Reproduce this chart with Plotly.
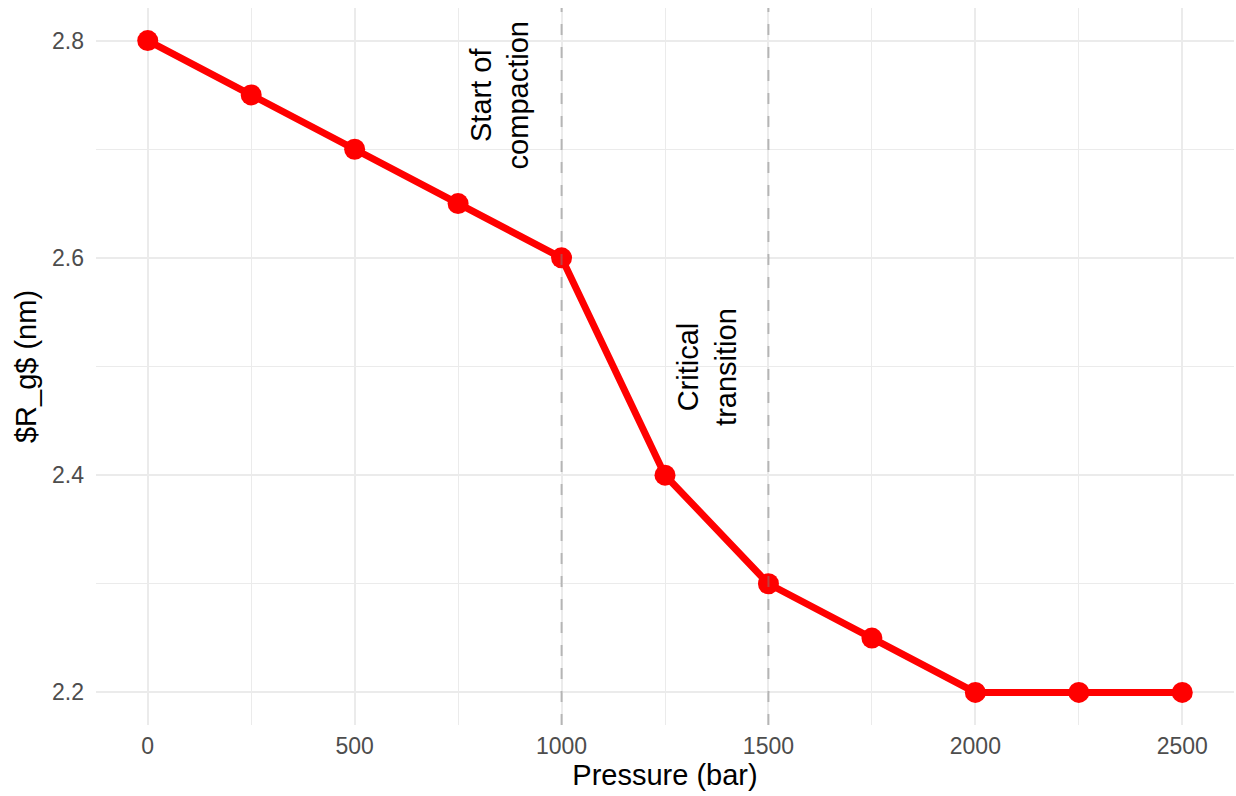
import plotly.graph_objects as go

pressure = [0, 250, 500, 750, 1000, 1250, 1500, 1750, 2000, 2250, 2500]
rg = [2.8, 2.75, 2.7, 2.65, 2.6, 2.4, 2.3, 2.25, 2.2, 2.2, 2.2]
vlines = [1000, 1500]
ann_x = [850, 1350]
ann_y = [2.75, 2.5]
ann_text = ["Start of<br>compaction", "Critical<br>transition"]

fig = go.Figure()
fig.add_trace(go.Scatter(
    x=pressure, y=rg, mode="lines+markers",
    line=dict(color="#ff0000", width=7),
    marker=dict(color="#ff0000", size=21),
    showlegend=False,
))

for v in vlines:
    fig.add_shape(type="line", x0=v, x1=v, xref="x", y0=0, y1=1, yref="paper",
                  line=dict(color="rgba(128,128,128,0.5)", width=2, dash="11px,12px"), layer="above")

for x, y, t in zip(ann_x, ann_y, ann_text):
    fig.add_annotation(x=x, y=y, text=t, textangle=-90, showarrow=False,
                       font=dict(size=29, color="#000000"), xanchor="center", yanchor="middle")

grid = "#ebebeb"
fig.update_layout(
    width=1236, height=796,
    margin=dict(l=96, r=2, t=8, b=71),
    paper_bgcolor="white", plot_bgcolor="white",
    font=dict(family="Liberation Sans, Arial, sans-serif"),
    xaxis=dict(
        range=[-125, 2625], tickvals=[0, 500, 1000, 1500, 2000, 2500],
        showgrid=True, gridcolor=grid, gridwidth=2, zeroline=False, showline=False,
        ticks="", ticklabelstandoff=5,
        tickfont=dict(size=23, color="#4d4d4d"),
        minor=dict(tickvals=[250, 750, 1250, 1750, 2250], showgrid=True, gridcolor=grid, gridwidth=1.3),
        title=dict(text="Pressure (bar)", font=dict(size=29, color="#000000"), standoff=1),
    ),
    yaxis=dict(
        range=[2.17, 2.83], tickvals=[2.2, 2.4, 2.6, 2.8], ticktext=["2.2", "2.4", "2.6", "2.8"],
        showgrid=True, gridcolor=grid, gridwidth=2, zeroline=False, showline=False,
        ticks="", ticklabelstandoff=11,
        tickfont=dict(size=23, color="#4d4d4d"),
        minor=dict(tickvals=[2.3, 2.5, 2.7], showgrid=True, gridcolor=grid, gridwidth=1.3),
        title=dict(text="$R_g$ (nm)", font=dict(size=29, color="#000000"), standoff=6),
    ),
)

fig.write_html("out.html", config={"displayModeBar": False},
               post_script="document.body.style.margin='0';")
